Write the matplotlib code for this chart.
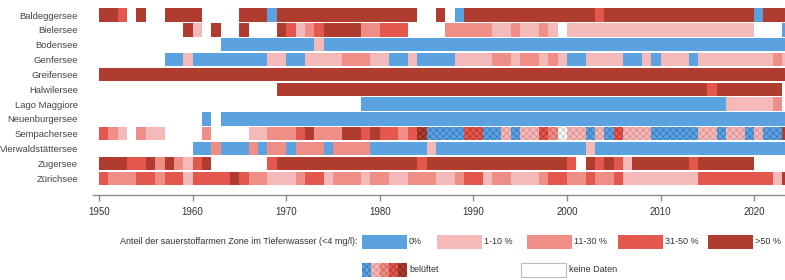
import matplotlib
matplotlib.use("Agg")
import matplotlib.pyplot as plt
from matplotlib.patches import Rectangle

plt.rcParams['font.family'] = ['Liberation Sans', 'DejaVu Sans']
plt.rcParams['hatch.linewidth'] = 0.5

# ---------------- data ----------------
first_year = 1950
lakes = ["Baldeggersee", "Bielersee", "Bodensee", "Genfersee", "Greifensee",
         "Halwilersee", "Lago Maggiore", "Neuenburgersee", "Sempachersee",
         "Vierwaldstättersee", "Zugersee", "Zürichsee"]

# one character per year 1950..2023
# 0 = keine Daten, 1 = 0 %, 2 = 1-10 %, 3 = 11-30 %, 4 = 31-50 %, 5 = >50 %
codes = {
    "Baldeggersee":       "5540500555|5000055515|5555555555|5555005015|5555555555|5554555555|5555555555|1555",
    "Bielersee":          "0000000005|2050050005|4234555533|4440000333|3322322320|2222222222|2222222222|0001",
    "Bodensee":           "0000000000|0001111111|1112111111|1111111111|1111111111|1111111111|1111111111|1111",
    "Genfersee":          "0000000112|1111111122|1122223332|2112111122|2233233232|1122221121|2221222222|2232",
    "Greifensee":         "5555555555|5555555555|5555555555|5555555555|5555555555|5555555555|5555555555|5555",
    "Halwilersee":        "0000000000|0000000005|5555555555|5555555555|5555555555|5555555555|5555545555|5550",
    "Lago Maggiore":      "0000000000|0000000000|0000000011|1111111111|1111111111|1111111111|1111111222|2230",
    "Neuenburgersee":     "0000000000|0101111111|1111111111|1111111111|1111111111|1111111111|1111111111|1111",
    "Sempachersee":       "4320322000|0300002233|3453335545|4434511114|4112122430|2212142221|1111221221|2115",
    "Vierwaldstättersee": "0000000000|1131113133|1333133331|1111121111|1111111111|1121111111|1111111111|1111",
    "Zugersee":           "5554453532|4500000045|5555555555|5555455555|5555555555|4054542555|5554555555|0000",
    "Zürichsee":          "4333443442|4444543322|2344233323|3223332234|4233222344|3343342222|2222444444|4425",
}

# years with artificial aeration (belüftet), drawn hatched
aerated = {"Sempachersee": (1984, 2022)}

categories = ["0%", "1-10 %", "11-30 %", "31-50 %", ">50 %"]
legend_title = "Anteil der sauerstoffarmen Zone im Tiefenwasser (<4 mg/l):"
tick_years = list(range(1950, 2021, 10))

# ---------------- style ----------------
face = {'0': '#ffffff', '1': '#5ba3e0', '2': '#f4b9b9', '3': '#ee8e86',
        '4': '#e4574d', '5': '#b03c2f'}
hatch_col = {'0': '#b8b8b8', '1': '#3572b8', '2': '#d98a8a', '3': '#cc625a',
             '4': '#ad3128', '5': '#76221a'}

W, H = 785, 280
fig = plt.figure(figsize=(W / 100, H / 100), dpi=100)
ax = fig.add_axes([93.4 / W, 1 - 185.7 / H, 691.6 / W, (185.7 - 7.6) / H])

for i, lake in enumerate(lakes):
    s = codes[lake].replace("|", "")
    span = aerated.get(lake)
    runs = []
    for k, c in enumerate(s):
        yr = first_year + k
        h = span is not None and span[0] <= yr <= span[1]
        if runs and runs[-1][2] == c and runs[-1][3] == h:
            runs[-1][1] += 1
        else:
            runs.append([yr, 1, c, h])
    for start, length, c, h in runs:
        if c == '0' and not h:
            continue
        if h:
            ax.barh(i, length, left=start, height=0.9, color=face[c],
                    edgecolor=hatch_col[c], hatch='xxxxx', linewidth=0)
        else:
            ax.barh(i, length, left=start, height=0.9, color=face[c], linewidth=0)

ax.set_xlim(1949.4, 2023.3)
ax.set_ylim(len(lakes) - 0.5, -0.5)
ax.set_yticks(range(len(lakes)))
ax.set_yticklabels(lakes)
ax.set_xticks(tick_years)
for sp in ('top', 'right', 'left'):
    ax.spines[sp].set_visible(False)
ax.spines['bottom'].set_position(('outward', 7))
ax.spines['bottom'].set_color('#8a8a8a')
ax.spines['bottom'].set_linewidth(1)
ax.tick_params(axis='x', length=4.5, width=1, color='#8a8a8a', labelsize=7,
               labelcolor='#333333', pad=3.5)
ax.tick_params(axis='y', length=0, labelsize=6.8, labelcolor='#444444', pad=11)
ax.set_facecolor('none')

# ---------------- legend ----------------
lax = fig.add_axes([0, 0, 1, 1])
lax.set_xlim(0, W)
lax.set_ylim(H, 0)
lax.axis('off')

y1, y2, sh, sw = 242, 270, 14, 45
lax.text(358, y1, legend_title, ha='right', va='center', fontsize=6.5, color='#333333')
sx = [362, 437, 527, 618, 708]
for x, c, lab in zip(sx, ['1', '2', '3', '4', '5'], categories):
    lax.add_patch(Rectangle((x, y1 - sh / 2), sw, sh, facecolor=face[c], linewidth=0))
    lax.text(x + sw + 2, y1, lab, ha='left', va='center', fontsize=6.5, color='#333333')

for j, c in enumerate(['1', '2', '3', '4', '5']):
    lax.add_patch(Rectangle((362 + j * sw / 5, y2 - sh / 2), sw / 5, sh,
                            facecolor=face[c], edgecolor=hatch_col[c],
                            hatch='xxxxx', linewidth=0))
lax.text(362 + sw + 2, y2, "belüftet", ha='left', va='center', fontsize=6.5, color='#333333')
lax.add_patch(Rectangle((521, y2 - sh / 2), sw, sh, facecolor='white',
                        edgecolor='#bbbbbb', linewidth=0.8))
lax.text(521 + sw + 3, y2, "keine Daten", ha='left', va='center', fontsize=6.5, color='#333333')

fig.savefig("out.png", dpi=100)
